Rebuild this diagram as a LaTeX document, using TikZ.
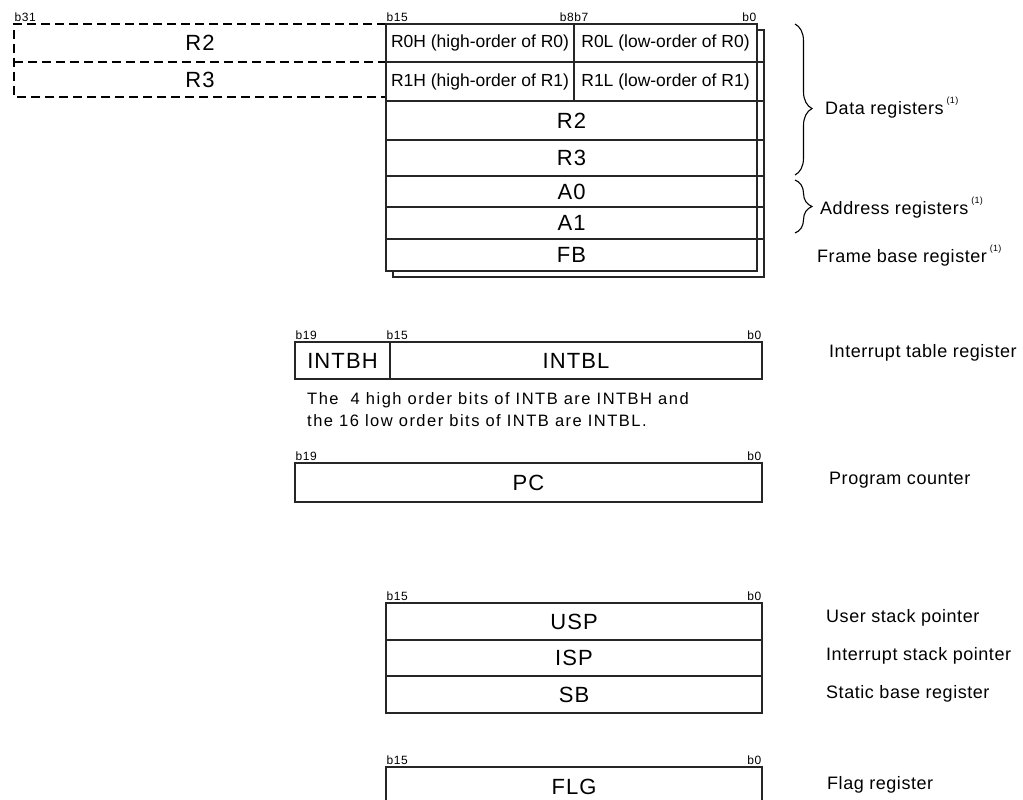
\documentclass[tikz,border=0pt]{standalone}
\usepackage{fontspec}
\setmainfont{Liberation Sans}
\newfontfamily\lsfont[LetterSpace=5]{Liberation Sans}
\newfontfamily\lblfont[LetterSpace=3]{Liberation Sans}
\newfontfamily\notefont[LetterSpace=9]{Liberation Sans}
\usetikzlibrary{positioning,decorations.pathreplacing}
\newcommand{\regsup}{\,\raisebox{0.6em}{\fontsize{9}{9}\selectfont(1)}}

\begin{document}
\begin{tikzpicture}[
    x=1pt, y=-1pt,
    cell/.style={rectangle, draw=black!85, line width=1.1pt, fill=white,
      inner sep=0pt, outer sep=0pt, font=\lsfont\fontsize{22}{26}\selectfont},
    half/.style={cell, font=\fontsize{17.5}{20}\selectfont},
    ext/.style={rectangle, inner sep=0pt, outer sep=0pt,
      font=\lsfont\fontsize{22}{26}\selectfont},
    dashline/.style={line width=2.4pt, dash pattern=on 9pt off 5pt},
    bit/.style={inner sep=0.5pt, yshift=1.5pt, font=\lsfont\fontsize{12}{13}\selectfont},
    lbl/.style={anchor=west, inner sep=0pt, font=\lblfont\fontsize{18}{21}\selectfont},
    brc/.style={decorate, decoration={brace, amplitude=17pt, aspect=#1},
      line width=1.1pt},
    brc/.default=0.5
  ]
    \useasboundingbox (0,0) rectangle (1023,800);
    \clip (0,0) rectangle (1023,800);

    % upper halves of R2/R3 (dashed)
    \node[ext, minimum width=372, minimum height=38, anchor=north west] (x2) at (14,24) {R2};
    \node[ext, minimum width=372, minimum height=35, below=0pt of x2] (x3) {R3};
    \draw[dashline] (x2.north east) -- (x2.north west) -- (x3.south west) -- (x3.south east);
    \draw[dashline] (x2.south west) -- (x2.south east);

    % register bank (two banks, shadow behind)
    \draw[line width=1.1pt, draw=black!85] (393,30) rectangle (764,277);
    \node[half, minimum width=188, minimum height=38, anchor=north west] (r0h) at (386,24) {R0H (high-order of R0)};
    \node[half, minimum width=183, minimum height=38, right=0pt of r0h] (r0l) {R0L (low-order of R0)};
    \node[half, minimum width=188, minimum height=39, below=0pt of r0h] (r1h) {R1H (high-order of R1)};
    \node[half, minimum width=183, minimum height=39, right=0pt of r1h] (r1l) {R1L (low-order of R1)};
    \node[cell, minimum width=371, minimum height=39, anchor=north west] (r2) at (r1h.south west) {R2};
    \node[cell, minimum width=371, minimum height=36, below=0pt of r2] (r3) {R3};
    \node[cell, minimum width=371, minimum height=31, below=0pt of r3] (a0) {A0};
    \node[cell, minimum width=371, minimum height=32, below=0pt of a0] (a1) {A1};
    \node[cell, minimum width=371, minimum height=32, below=0pt of a1] (fb) {FB};
    \foreach \n in {r0l,r1l,r2,r3,a0,a1}
      \draw[line width=1.1pt, draw=black!85] (\n.south east) -- ++(7,0);

    \node[bit, anchor=south west] (b31) at (x2.north west) {b31};
    \node[bit, anchor=south west] (b15a) at (r0h.north west) {b15};
    \node[bit, anchor=south] (b8b7) at (r0h.north east) {b8b7};
    \node[bit, anchor=south east] (b0a) at (r0l.north east) {b0};

    % braces
    \coordinate (dtop) at (795,24);
    \coordinate (dbot) at (795,175);
    \coordinate (atop) at (795,180);
    \coordinate (abot) at (795,233);
    \draw[brc=0.56] (dtop) -- (dbot);
    \draw[brc] (atop) -- (abot);
    \node[lbl] (ldata) at (825,108) {Data registers\regsup};
    \node[lbl] (laddr) at (820,208) {Address registers\regsup};
    \node[lbl] (lfb) at (817,256) {Frame base register\regsup};

    % INTB
    \node[cell, minimum width=95, minimum height=37, anchor=north west] (intbh) at (295,342) {INTBH};
    \node[cell, minimum width=372, minimum height=37, right=0pt of intbh] (intbl) {INTBL};
    \node[bit, anchor=south west] (b19a) at (intbh.north west) {b19};
    \node[bit, anchor=south west, xshift=-4pt] (b15b) at (intbl.north west) {b15};
    \node[bit, anchor=south east] (b0b) at (intbl.north east) {b0};
    \node[anchor=north west, align=left, inner sep=0pt, font=\notefont\fontsize{16.5}{22}\selectfont] (note) at (307,392)
      {The~ 4 high order bits of INTB are INTBH and\\the 16 low order bits of INTB are INTBL.};
    \node[lbl] (lintb) at (829,353) {Interrupt table register};

    % PC
    \node[cell, minimum width=467, minimum height=39, anchor=north west] (pc) at (295,463) {PC};
    \node[bit, anchor=south west] (b19b) at (pc.north west) {b19};
    \node[bit, anchor=south east] (b0c) at (pc.north east) {b0};
    \node[lbl] (lpc) at (829,480) {Program counter};

    % stack pointers and SB
    \node[cell, minimum width=376, minimum height=37, anchor=north west] (usp) at (386,603) {USP};
    \node[cell, minimum width=376, minimum height=36, below=0pt of usp] (isp) {ISP};
    \node[cell, minimum width=376, minimum height=37, below=0pt of isp] (sb) {SB};
    \node[bit, anchor=south west] (b15c) at (usp.north west) {b15};
    \node[bit, anchor=south east] (b0d) at (usp.north east) {b0};
    \node[lbl] (lusp) at (826,618) {User stack pointer};
    \node[lbl] (lisp) at (826,656) {Interrupt stack pointer};
    \node[lbl] (lsb) at (826,694) {Static base register};

    % FLG
    \node[cell, minimum width=376, minimum height=40, anchor=north west] (flg) at (386,767) {FLG};
    \node[bit, anchor=south west] (b15d) at (flg.north west) {b15};
    \node[bit, anchor=south east] (b0e) at (flg.north east) {b0};
    \node[lbl] (lflg) at (827,785) {Flag register};
\end{tikzpicture}
\end{document}
